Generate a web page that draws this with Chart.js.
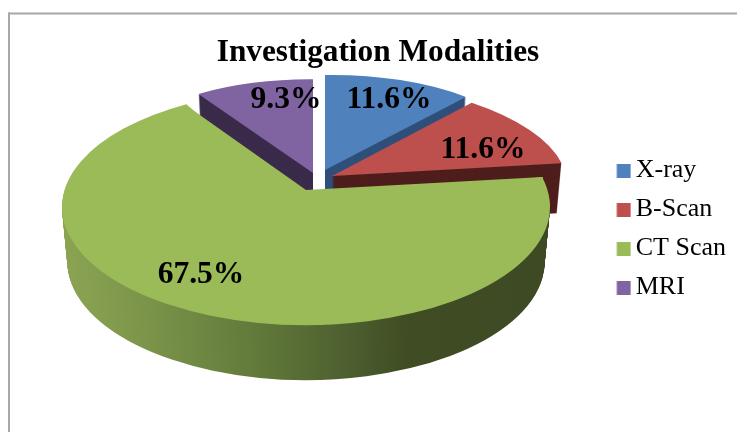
<!DOCTYPE html>
<html>
<head>
<meta charset="utf-8">
<script src="https://cdn.jsdelivr.net/npm/chart.js@4"></script>
<style>
html,body{margin:0;padding:0;background:#fff;overflow:hidden}
canvas{display:block;filter:blur(0.4px)}
</style>
</head>
<body>
<canvas id="c" width="737" height="432"></canvas>
<script>
const titleText = 'Investigation Modalities';
const categories = ['X-ray', 'B-Scan', 'CT Scan', 'MRI'];
const shares = [11.6, 11.6, 67.5, 9.3];
const sliceColors = ['#4f81bd', '#bd4f4c', '#9bbb59', '#8064a2'];
const wallColors = ['#2f507a', '#4e1e1d', null, '#3a2b4b'];
const paintOrder = [3, 0, 1, 2];

// Oblique view of each exploded slice: hub and linear map [a,b,c,d] of the unit circle.
const sliceViews = [
  {hub: [325, 170], map: [211.7, -3.2, 0, 95], depth: 50},
  {hub: [332, 176], map: [233.5, -1.8, 21.2, 96.6], depth: 50},
  {hub: [306, 190], map: [236.8, -1.5, -14, 101.7], depth: 0},
  {hub: [313, 173], map: [207.8, 1.5, 0, 93.7], depth: 50}
];
// The large slice's rim sits on its own ellipse, behind a perspective-shifted hub.
const rimView = {hub: [306, 207], map: [244, 0, 0, 118], depth: 55, startShift: -8.2, endShift: 4.1};
const wallStops = [[62, '#8ba453'], [150, '#7a9349'], [250, '#637b3b'], [340, '#4f6130'], [410, '#3f4c24'], [550, '#3d4a23']];
const labelAnchors = [[389, 100], [483, 150], [201, 275], [286, 100]];

const RAD = Math.PI / 180;

function drawSlice(ctx, arc, view, drop, fill, shifts) {
  const R = arc.outerRadius;
  const shrink = 1 - 0.0004 * drop;
  const ghost = Object.create(arc);
  ghost.options = Object.create(arc.options);
  ghost.options.backgroundColor = fill;
  if (shifts) {
    ghost.startAngle = arc.startAngle + shifts[0] * RAD;
    ghost.endAngle = arc.endAngle + shifts[1] * RAD;
    ghost.circumference = ghost.endAngle - ghost.startAngle;
  }
  ctx.save();
  ctx.translate(view.hub[0], view.hub[1] + drop);
  ctx.transform(view.map[0] * shrink, view.map[1], view.map[2] * shrink, view.map[3], 0, 0);
  ctx.scale(1 / R, 1 / R);
  ctx.translate(-arc.x, -arc.y);
  ghost.draw(ctx);
  ctx.restore();
}

function wallGradient(ctx, arc) {
  const toLocal = x => arc.x + (x - rimView.hub[0]) * arc.outerRadius / rimView.map[0];
  const first = wallStops[0][0], last = wallStops[wallStops.length - 1][0];
  const g = ctx.createLinearGradient(toLocal(first), 0, toLocal(last), 0);
  wallStops.forEach(s => g.addColorStop((s[0] - first) / (last - first), s[1]));
  return g;
}

const pie3d = {
  id: 'pie3d',
  beforeDatasetsDraw(chart) {
    const ctx = chart.ctx;
    const arcs = chart.getDatasetMeta(0).data;
    const rimShifts = [rimView.startShift, rimView.endShift];
    paintOrder.forEach(i => {
      const arc = arcs[i];
      if (i === 2) {
        const g = wallGradient(ctx, arc);
        for (let d = rimView.depth; d >= 1; d--) drawSlice(ctx, arc, rimView, d, g, rimShifts);
        drawSlice(ctx, arc, rimView, 0, sliceColors[i], rimShifts);
        drawSlice(ctx, arc, sliceViews[i], 0, sliceColors[i]);
      } else {
        const v = sliceViews[i];
        for (let d = v.depth; d >= 1; d--) drawSlice(ctx, arc, v, d, wallColors[i]);
        drawSlice(ctx, arc, v, 0, sliceColors[i]);
      }
    });
    return false;
  },
  afterDraw(chart) {
    const ctx = chart.ctx;
    ctx.save();
    ctx.font = 'bold 31.5px "Liberation Serif"';
    ctx.fillStyle = '#000';
    ctx.textAlign = 'center';
    ctx.textBaseline = 'middle';
    shares.forEach((v, i) => ctx.fillText(v.toFixed(1) + '%', labelAnchors[i][0], labelAnchors[i][1]));
    // chart frame: only its top and left edges fall inside the picture
    ctx.fillStyle = '#a8a8a8';
    ctx.fillRect(8, 12.5, 729, 2);
    ctx.fillRect(8, 12.5, 2, 420);
    ctx.restore();
  }
};

function swatch(color) {
  const s = document.createElement('canvas');
  s.width = 18; s.height = 14;
  const c = s.getContext('2d');
  c.fillStyle = color;
  c.fillRect(3.5, 0, 14, 14);
  return s;
}

new Chart(document.getElementById('c'), {
  type: 'pie',
  data: {
    labels: categories,
    datasets: [{data: shares, backgroundColor: sliceColors, borderWidth: 0, offset: 0, hoverOffset: 0}]
  },
  plugins: [pie3d],
  options: {
    responsive: false,
    animation: false,
    layout: {padding: {left: 20, right: 1, top: 26, bottom: 0}},
    plugins: {
      tooltip: {enabled: false},
      title: {
        display: true,
        text: titleText,
        color: '#000',
        font: {family: '"Liberation Serif"', size: 31.3, weight: 'bold', lineHeight: 1.2},
        padding: {top: 8, bottom: 10}
      },
      legend: {
        display: true,
        position: 'right',
        labels: {
          color: '#000',
          font: {family: '"Liberation Serif"', size: 26, lineHeight: 1},
          padding: 13,
          boxWidth: 1,
          boxHeight: 14,
          usePointStyle: true,
          generateLabels: () => categories.map((t, i) => ({
            text: t, pointStyle: swatch(sliceColors[i]), fillStyle: sliceColors[i],
            strokeStyle: sliceColors[i], lineWidth: 0, index: i, hidden: false
          }))
        }
      }
    }
  }
});
</script>
</body>
</html>
